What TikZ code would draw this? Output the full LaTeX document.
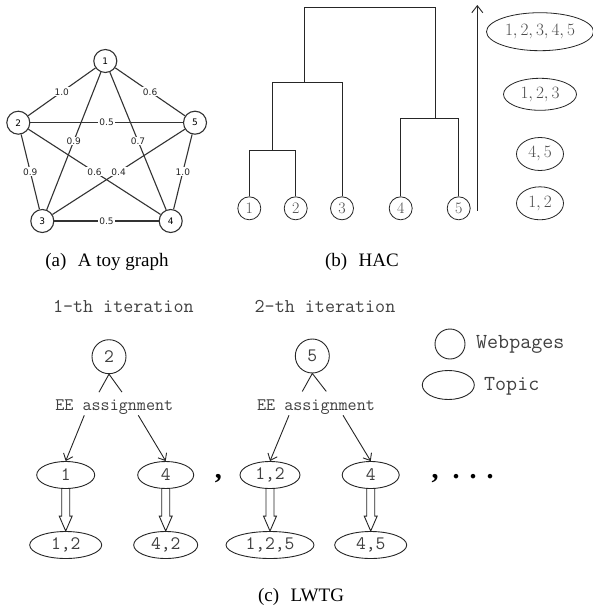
\documentclass[tikz,border=0pt]{standalone}
\usepackage{fontspec}
\usetikzlibrary{arrows.meta,calc,positioning,shapes.geometric}
\newfontfamily\capfont{Liberation Serif}
\newfontfamily\graphfont{DejaVu Sans}
\newcommand\songfont{\ttfamily}

\begin{document}
\begin{tikzpicture}[x=1pt,y=-1pt,>={Straight Barb[length=6pt,width=10pt]}]
    %--- Styles ---
    \tikzset{
      gnode/.style={circle,draw=black!80,line width=1.1pt,minimum size=23pt,inner sep=0pt,
        font=\graphfont\fontsize{9}{9}\selectfont},
      gedge/.style={draw=black!80,line width=1.1pt},
      wlabel/.style={fill=white,inner sep=1pt,text=black!85,font=\graphfont\fontsize{9}{9}\selectfont},
      leaf/.style={circle,draw=black!85,line width=0.8pt,minimum size=23pt,inner sep=0pt,
        text=black!70,font=\fontsize{16}{16}\selectfont},
      tree/.style={draw=black!85,line width=0.9pt},
      cluster/.style={ellipse,draw=black!85,line width=0.8pt,inner sep=0pt,
        text=black!70,font=\fontsize{16}{16}\selectfont},
      page/.style={circle,draw=black!85,line width=0.9pt,minimum size=34pt,inner sep=0pt,
        text=black!75,font=\songfont\fontsize{19}{19}\selectfont},
      topic/.style={ellipse,draw=black!85,line width=0.9pt,minimum height=27pt,inner sep=0pt,
        text=black!75,font=\songfont\fontsize{19}{19}\selectfont},
      songtext/.style={text=black!75,inner sep=1pt},
      caption/.style={font=\capfont\fontsize{19}{19}\selectfont},
      hollow/.style={draw=black!85,line width=0.9pt,to path={
        let \p1=(\tikztostart), \p2=(\tikztotarget) in
        (\x1-4pt,\y1) -- (\x1-4pt,\y2+15pt) -- (\x1-6.5pt,\y2+15pt) -- (\x1,\y2)
        -- (\x1+6.5pt,\y2+15pt) -- (\x1+4pt,\y2+15pt) -- (\x1+4pt,\y1)}}
    }

    \fill[white] (0,0) rectangle (593,613);
    \useasboundingbox (0,0) rectangle (593,613);

    %--- (a) toy graph ---
    \node[gnode] (g1) at (105.3,61) {1};
    \node[gnode] (g2) at (18.3,122.7) {2};
    \node[gnode] (g5) at (195,122.7) {5};
    \node[gnode] (g3) at (42.3,221) {3};
    \node[gnode] (g4) at (170.7,221) {4};

    \draw[gedge] (g2) -- node[wlabel,pos=0.5] {0.6} (g4);
    \draw[gedge] (g5) -- node[wlabel,pos=0.5] {0.4} (g3);
    \draw[gedge] (g1) -- node[wlabel,pos=0.5] {0.9} (g3);
    \draw[gedge] (g1) -- node[wlabel,pos=0.5] {0.7} (g4);
    \draw[gedge] (g1) -- node[wlabel] {1.0} (g2);
    \draw[gedge] (g1) -- node[wlabel] {0.6} (g5);
    \draw[gedge] (g2) -- node[wlabel] {0.5} (g5);
    \draw[gedge] (g2) -- node[wlabel] {0.9} (g3);
    \draw[gedge] (g5) -- node[wlabel] {1.0} (g4);
    \draw[gedge] (g3) -- node[wlabel] {0.5} (g4);

    \node[caption] (capa) at (107,262) {(a)\hspace{0.6em}A toy graph};

    %--- (b) HAC dendrogram ---
    \node[leaf] (l1) at (249.3,208.3) {1};
    \node[leaf] (l2) at (295.7,208.3) {2};
    \node[leaf] (l3) at (342,208.3) {3};
    \node[leaf] (l4) at (400.7,208.3) {4};
    \node[leaf] (l5) at (458.7,208.3) {5};

    \coordinate (m12) at (272.5,150.7);
    \coordinate (m123) at (304,82.3);
    \coordinate (m45) at (435.7,118.3);
    \coordinate (mtop) at (435.7,7.3);
    \draw[tree] (l1.north) |- (m12) -| (l2.north);
    \draw[tree] (m12) |- (m123) -| (l3.north);
    \draw[tree] (l4.north) |- (m45) -| (l5.north);
    \draw[tree] (m123) |- (mtop) -- (m45);

    \coordinate (abot) at (477.3,210.7);
    \coordinate (atop) at (477.3,5);
    \draw[->,tree,>={Straight Barb[length=7pt,width=11pt]}] (abot) -- (atop);

    \node[cluster,minimum width=107pt,minimum height=38pt] (c12345) at (540,31.7) {$1, 2, 3, 4, 5$};
    \node[cluster,minimum width=73pt,minimum height=32pt] (c123) at (540,94.3) {$1, 2, 3$};
    \node[cluster,minimum width=47pt,minimum height=33pt] (c45) at (540,154) {$4, 5$};
    \node[cluster,minimum width=47pt,minimum height=33pt] (c12) at (540,203.3) {$1, 2$};

    \node[caption] (capb) at (362,262) {(b)\hspace{0.6em}HAC};

    %--- (c) LWTG ---
    \node[songtext,font=\songfont\fontsize{19.5}{19.5}\selectfont] (it1) at (123.3,306.7) {1-th iteration};
    \node[songtext,font=\songfont\fontsize{19.5}{19.5}\selectfont] (it2) at (325,306.7) {2-th iteration};

    % 1-th iteration
    \node[page] (w2) at (109,356.7) {2};
    \node[songtext,font=\songfont\fontsize{17.6}{17.6}\selectfont] (ee1) at (114.3,406.7) {EE assignment};
    \draw[tree] ($(w2.south)+(-10,18)$) -- (w2.south) -- ++(13,18);
    \node[topic,minimum width=58pt] (t1) at (65.7,475) {1};
    \node[topic,minimum width=56pt] (t4) at (165.7,475) {4};
    \node[topic,minimum width=72pt] (r12) at (65.7,545) {1,2};
    \node[topic,minimum width=64pt] (r42) at (165.7,545) {4,2};
    \draw[->,tree] ($(ee1.south)+(-30,0)$) -- (t1.north);
    \draw[->,tree] ($(ee1.south)+(24,0)$) -- (t4.north);
    \draw[hollow] (t1.south) to (r12.north);
    \draw[hollow] (t4.south) to (r42.north);

    \node[font=\capfont\bfseries\fontsize{28}{28}\selectfont] (sep1) at (218.3,479) {,};

    % 2-th iteration
    \node[page] (w5) at (312.3,356) {5};
    \node[songtext,font=\songfont\fontsize{17.6}{17.6}\selectfont] (ee2) at (316,406.7) {EE assignment};
    \draw[tree] ($(w5.south)+(-10,18)$) -- (w5.south) -- ++(14,18);
    \node[topic,minimum width=60pt] (t12) at (270,475) {1,2};
    \node[topic,minimum width=57pt] (t4b) at (370.7,475) {4};
    \node[topic,minimum width=88pt] (r125) at (270,545) {1,2,5};
    \node[topic,minimum width=72pt] (r45) at (370.7,545) {4,5};
    \draw[->,tree] ($(ee2.south)+(-27,0)$) -- (t12.north);
    \draw[->,tree] ($(ee2.south)+(27,0)$) -- (t4b.north);
    \draw[hollow] (t12.south) to (r125.north);
    \draw[hollow] (t4b.south) to (r45.north);

    \node[font=\capfont\bfseries\fontsize{28}{28}\selectfont,anchor=west] (sep2) at (428,479)
      {,\hspace{14pt}.\hspace{10pt}.\hspace{10pt}.};

    %--- Legend ---
    \node[page,minimum size=30pt] (legw) at (450,344) {};
    \node[songtext,anchor=west,font=\songfont\fontsize{21.4}{21.4}\selectfont] (legwt) at (475,344) {Webpages};
    \node[topic,minimum width=52pt,minimum height=29pt] (legt) at (448.3,385) {};
    \node[songtext,anchor=west,font=\songfont\fontsize{21.4}{21.4}\selectfont] (legtt) at (483,386) {Topic};

    \node[caption] (capc) at (301,597) {(c)\hspace{0.6em}LWTG};
\end{tikzpicture}
\end{document}
